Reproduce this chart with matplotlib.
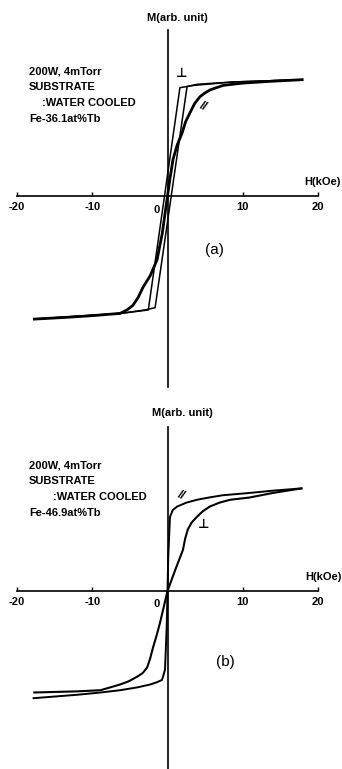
import matplotlib
matplotlib.use("Agg")
import matplotlib.pyplot as plt

plt.rcParams['font.family'] = ['Liberation Sans', 'DejaVu Sans']
plt.rcParams['font.weight'] = 'bold'

# H in kOe, M in arb. units
tick_vals = [-20, -10, 10, 20]
tick_labels = ['-20', '-10', '10', '20']

# (a) Fe-36.1at%Tb
a_perp_desc_h = [17.9, 8.7, 3.5, 1.65, -2.55, -6.2, -17.7]
a_perp_desc_m = [1.02, 1.00, 0.97, 0.95, -1.00, -1.03, -1.08]
a_perp_asc_h = [-17.7, -6.2, -3.0, -1.65, 2.6, 4.0, 8.7, 17.9]
a_perp_asc_m = [-1.08, -1.03, -1.00, -0.98, 0.96, 0.98, 1.00, 1.02]
a_par_h = [-17.7, -13.5, -10.0, -6.3, -5.4, -4.6, -3.9, -3.25, -2.3, -1.39, -0.7, 0.0,
           0.35, 0.73, 1.3, 1.93, 2.4, 2.99, 3.6, 4.3, 5.0, 5.65, 6.5, 7.4, 10.0, 13.5, 17.9]
a_par_m = [-1.08, -1.065, -1.05, -1.03, -1.00, -0.96, -0.89, -0.80, -0.70, -0.56, -0.33, 0.0,
           0.16, 0.32, 0.45, 0.55, 0.65, 0.73, 0.81, 0.87, 0.905, 0.93, 0.95, 0.97, 0.99, 1.005, 1.02]

# (b) Fe-46.9at%Tb
b_perp_h = [-17.7, -12.0, -8.9, -6.3, -5.1, -4.0, -3.3, -2.7, -2.3, -1.9, -1.45, -1.0, -0.5, 0.0,
            1.0, 2.05, 2.35, 2.7, 3.2, 3.9, 4.7, 5.6, 6.9, 8.3, 10.9, 14.0, 17.8]
b_perp_m = [-0.89, -0.88, -0.87, -0.82, -0.79, -0.75, -0.72, -0.67, -0.59, -0.49, -0.39, -0.28, -0.14, 0.0,
            0.18, 0.36, 0.46, 0.54, 0.60, 0.65, 0.70, 0.74, 0.775, 0.80, 0.82, 0.86, 0.90]
b_par_h = [-17.8, -12.0, -8.9, -6.3, -4.0, -2.3, -1.4, -0.73, -0.33, -0.1, 0.0, 0.1, 0.33, 0.7,
           1.26, 2.5, 3.9, 5.5, 7.35, 10.9, 14.0, 17.8]
b_par_m = [-0.94, -0.91, -0.89, -0.87, -0.845, -0.82, -0.80, -0.78, -0.69, -0.3, 0.0, 0.3, 0.65, 0.71,
           0.74, 0.775, 0.80, 0.82, 0.84, 0.86, 0.88, 0.90]

W, H = 342, 769
fig = plt.figure(figsize=(W / 100, H / 100), dpi=100)


def pt(x, y):
    return x / W, 1 - y / H


def setup(ax, ylim, vbounds):
    ax.set_xlim(-22.26, 23.19)
    ax.set_ylim(*ylim)
    ax.patch.set_alpha(0)
    for s in ['top', 'right']:
        ax.spines[s].set_visible(False)
    ax.spines['left'].set_position(('data', 0))
    ax.spines['bottom'].set_position(('data', 0))
    ax.spines['left'].set_bounds(*vbounds)
    ax.spines['bottom'].set_bounds(-20, 20)
    for s in ['left', 'bottom']:
        ax.spines[s].set_linewidth(1.2)
    ax.set_yticks([])
    ax.set_xticks(tick_vals)
    ax.set_xticklabels(tick_labels, fontsize=8, fontweight='bold')
    ax.tick_params(axis='x', direction='in', length=3, width=1.0, pad=4)


axa = fig.add_axes([0, (H - 390) / H, 1, 390 / H])
setup(axa, (-1.702, 1.719), (-1.675, 1.456))
axa.plot(a_perp_desc_h, a_perp_desc_m, color='black', lw=1.1)
axa.plot(a_perp_asc_h, a_perp_asc_m, color='black', lw=1.1)
axa.plot(a_par_h, a_par_m, color='black', lw=2.0, solid_joinstyle='round')

axb = fig.add_axes([0, 0, 1, 379 / H])
setup(axb, (-1.561, 1.763), (-1.561, 1.439))
axb.plot(b_perp_h, b_perp_m, color='black', lw=1.5, solid_joinstyle='round')
axb.plot(b_par_h, b_par_m, color='black', lw=1.4, solid_joinstyle='round')

fs = 8
for y0, indent, comp in [(72, 42, 'Fe-36.1at%Tb'), (466, 53, 'Fe-46.9at%Tb')]:
    fig.text(*pt(29, y0), '200W, 4mTorr', fontsize=fs, va='center')
    fig.text(*pt(29, y0 + 15.5), 'SUBSTRATE', fontsize=fs, va='center')
    fig.text(*pt(indent, y0 + 31), ':WATER COOLED', fontsize=fs, va='center')
    fig.text(*pt(29, y0 + 46.5), comp, fontsize=fs, va='center')

fig.text(*pt(177, 18), 'M(arb. unit)', fontsize=fs, ha='center', va='center')
fig.text(*pt(182, 413), 'M(arb. unit)', fontsize=fs, ha='center', va='center')
fig.text(*pt(341, 182), 'H(kOe)', fontsize=fs, ha='right', va='center')
fig.text(*pt(342, 577), 'H(kOe)', fontsize=fs, ha='right', va='center')
fig.text(*pt(157, 210), '0', fontsize=fs, ha='center', va='center')
fig.text(*pt(157, 604), '0', fontsize=fs, ha='center', va='center')

fig.text(*pt(214, 250), '(a)', fontsize=11, ha='center', va='center', fontweight='normal')
fig.text(*pt(225, 662), '(b)', fontsize=11, ha='center', va='center', fontweight='normal')

fig.text(*pt(182, 74), '⊥', fontsize=9, ha='center', va='center')
fig.text(*pt(203, 107), '//', fontsize=9, ha='center', va='center', rotation=-25)
fig.text(*pt(181, 496), '//', fontsize=9, ha='center', va='center', rotation=-25)
fig.text(*pt(204, 525), '⊥', fontsize=9, ha='center', va='center')

fig.savefig('out.png', dpi=100)
